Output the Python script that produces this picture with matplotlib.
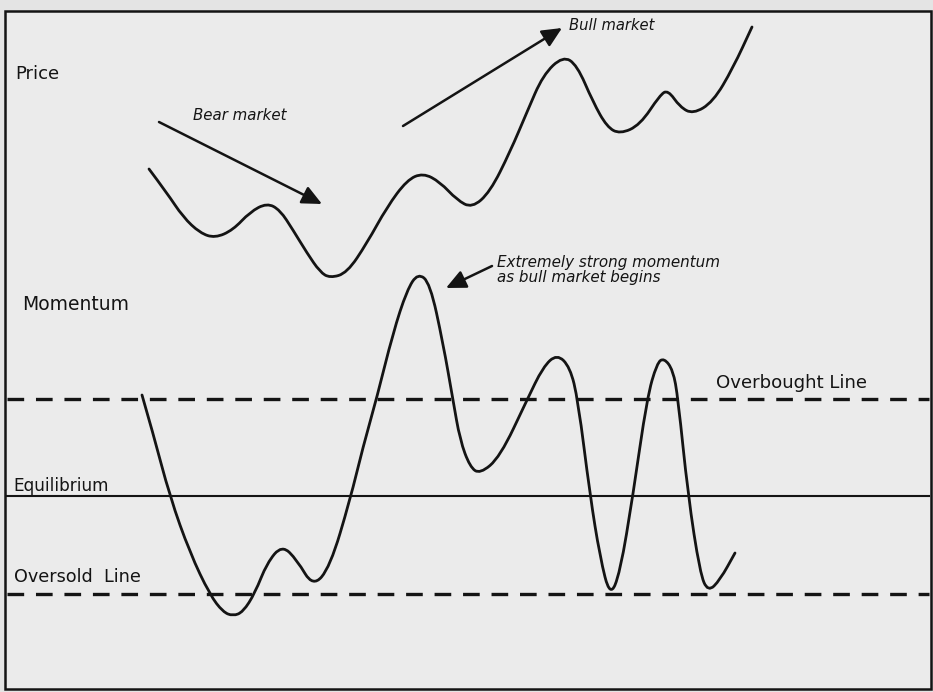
import matplotlib.pyplot as plt
from matplotlib.path import Path
from matplotlib.patches import PathPatch, Rectangle

plt.rcParams['font.family'] = ['DejaVu Sans']
plt.rcParams['lines.scale_dashes'] = False

# price curve (x to the right, y downwards)
price_x = [149, 167, 183, 200, 215, 233, 250, 267, 280, 293, 307, 320, 330, 347, 367, 387, 407, 423,
           440, 457, 472, 490, 510, 527, 543, 563, 577, 593, 607, 620, 640, 660, 668, 680, 693, 713, 733, 752]
price_y = [169, 193, 217, 233, 238, 230, 212, 203, 210, 230, 253, 272, 278, 273, 243, 207, 180, 173,
           182, 200, 208, 192, 152, 112, 75, 56, 65, 102, 127, 134, 125, 95, 90, 107, 114, 102, 68, 27]

# momentum curve
mom_x = [142, 153, 170, 190, 210, 223, 233, 243, 255, 267, 282, 297, 313, 330, 350, 363, 377, 393, 407, 418,
         430, 443, 453, 460, 470, 480, 500, 527, 543, 557, 570, 578, 590, 600, 610, 620, 633, 647, 657, 664,
         673, 678, 688, 700, 708, 720, 735]
mom_y = [395, 433, 497, 553, 595, 612, 616, 612, 593, 563, 545, 560, 587, 567, 500, 447, 397, 333, 290, 273,
         283, 343, 400, 440, 467, 474, 457, 400, 367, 354, 367, 400, 495, 557, 597, 573, 495, 398, 363, 358,
         370, 398, 495, 573, 592, 580, 553]

overbought_y = 399
equilibrium_y = 496
oversold_y = 594

labels = ['Price', 'Momentum', 'Equilibrium', 'Oversold  Line', 'Overbought Line']
notes = ['Bear market', 'Bull market', 'Extremely strong momentum\nas bull market begins']

ink = '#141414'
paper = '#ebebeb'


def smooth_path(xs, ys):
    pts = list(zip(xs, ys))
    verts = [pts[0]]
    codes = [Path.MOVETO]
    for i in range(1, len(pts) - 1):
        mid = ((pts[i][0] + pts[i + 1][0]) / 2, (pts[i][1] + pts[i + 1][1]) / 2)
        verts += [pts[i], mid]
        codes += [Path.CURVE3, Path.CURVE3]
    verts.append(pts[-1])
    codes.append(Path.LINETO)
    return Path(verts, codes)


fig = plt.figure(figsize=(9.33, 6.92), dpi=100, facecolor='#e4e4e4')
ax = fig.add_axes([0, 0, 1, 1])
ax.set_xlim(0, 933)
ax.set_ylim(692, 0)
ax.axis('off')

ax.add_patch(Rectangle((5, 11), 926, 678, facecolor=paper, edgecolor=ink, lw=1.8, zorder=0))

# reference lines
ax.plot([7, 929], [overbought_y, overbought_y], color=ink, lw=2.4, dashes=(12, 8.5))
ax.plot([7, 929], [oversold_y, oversold_y], color=ink, lw=2.4, dashes=(12, 8.5))
ax.plot([7, 929], [equilibrium_y, equilibrium_y], color=ink, lw=1.5)

for xs, ys in [(price_x, price_y), (mom_x, mom_y)]:
    ax.add_patch(PathPatch(smooth_path(xs, ys), facecolor='none', edgecolor=ink, lw=2.0,
                           capstyle='round', joinstyle='round'))

# arrows
arrow = dict(arrowstyle='-|>,head_length=0.6,head_width=0.28', color=ink, lw=1.8,
             mutation_scale=20, shrinkA=0, shrinkB=0)
ax.annotate('', xy=(322, 204), xytext=(159, 122), arrowprops=arrow)
ax.annotate('', xy=(562, 28), xytext=(403, 126), arrowprops=arrow)
ax.annotate('', xy=(446, 288), xytext=(492, 266), arrowprops=arrow)

# labels
ax.text(15, 74, labels[0], fontsize=13, color=ink, va='center')
ax.text(22, 304, labels[1], fontsize=13.5, color=ink, va='center')
ax.text(13, 486, labels[2], fontsize=12.2, color=ink, va='center')
ax.text(14, 577, labels[3], fontsize=12.7, color=ink, va='center')
ax.text(716, 383, labels[4], fontsize=13.1, color=ink, va='center')

ax.text(193, 116, notes[0], fontsize=10.8, style='italic', color=ink, va='center')
ax.text(569, 25, notes[1], fontsize=10.6, style='italic', color=ink, va='center')
ax.text(497, 270, notes[2], fontsize=10.9, style='italic', color=ink, va='center', linespacing=1.0)

fig.savefig('out.png', dpi=100, facecolor=fig.get_facecolor())
